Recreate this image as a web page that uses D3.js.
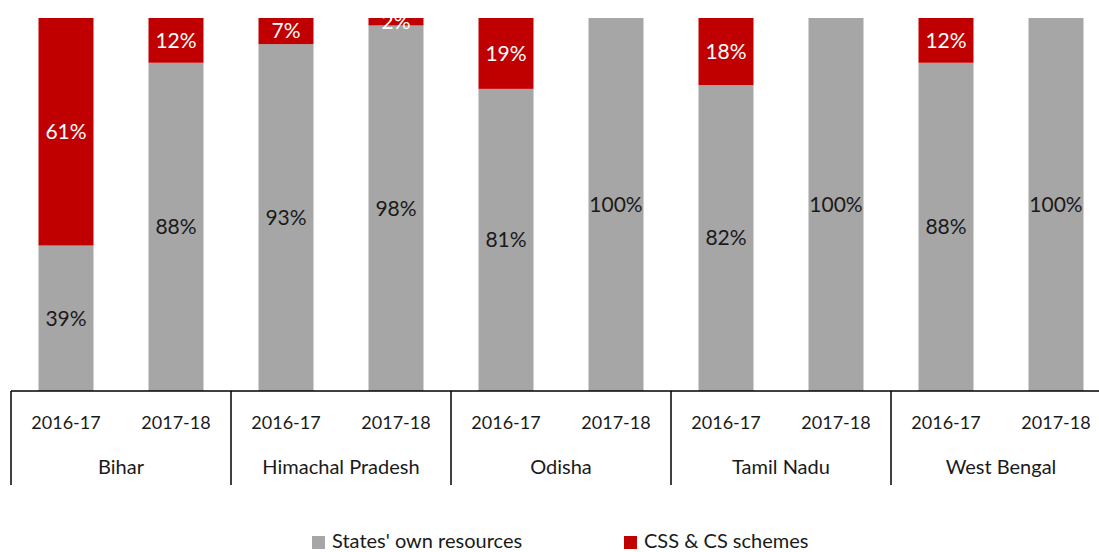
<!DOCTYPE html>
<html>
<head>
<meta charset="utf-8">
<script src="https://cdn.jsdelivr.net/npm/d3@7"></script>
<style>
body { margin: 0; background: #fff; }
svg { display: block; font-family: Lato, "Open Sans", sans-serif; }
</style>
</head>
<body>
<svg id="chart" width="1099" height="552"></svg>
<script>
var states = ["Bihar", "Himachal Pradesh", "Odisha", "Tamil Nadu", "West Bengal"];
var years = ["2016-17", "2017-18"];
// one value per bar, in the order state by state, year by year
var ownResources = [39, 88, 93, 98, 81, 100, 82, 100, 88, 100];
var cssSchemes = [61, 12, 7, 2, 19, 0, 18, 0, 12, 0];
var seriesNames = ["States' own resources", "CSS & CS schemes"];
var colours = ["#a6a6a6", "#c00000"];

var svg = d3.select("#chart");
var plotTop = 18, plotBottom = 391, plotLeft = 11, plotRight = 1111;

var bars = [];
states.forEach(function (s, i) {
    years.forEach(function (yr, j) {
        var k = i * years.length + j;
        bars.push({ key: s + "|" + yr, state: s, year: yr, own: ownResources[k], css: cssSchemes[k] });
    });
});

var x = d3.scaleBand()
    .domain(bars.map(function (d) { return d.key; }))
    .range([plotLeft, plotRight])
    .paddingInner(0.5)
    .paddingOuter(0.25);
var y = d3.scaleLinear().domain([0, 100]).range([plotBottom, plotTop]);

var g = svg.selectAll("g.bar").data(bars).enter().append("g").attr("class", "bar");

g.append("rect")
    .attr("x", function (d) { return x(d.key); })
    .attr("width", x.bandwidth())
    .attr("y", function (d) { return y(d.own); })
    .attr("height", function (d) { return y(0) - y(d.own); })
    .attr("fill", colours[0]);

g.filter(function (d) { return d.css > 0; }).append("rect")
    .attr("x", function (d) { return x(d.key); })
    .attr("width", x.bandwidth())
    .attr("y", function (d) { return y(d.own + d.css); })
    .attr("height", function (d) { return y(d.own) - y(d.own + d.css); })
    .attr("fill", colours[1]);

g.append("text")
    .attr("x", function (d) { return x(d.key) + x.bandwidth() / 2; })
    .attr("y", function (d) { return (y(0) + y(d.own)) / 2; })
    .attr("dy", "0.35em")
    .attr("text-anchor", "middle")
    .attr("font-size", 21)
    .attr("fill", "#1a1a1a")
    .text(function (d) { return d.own + "%"; });

g.filter(function (d) { return d.css > 0; }).append("text")
    .attr("x", function (d) { return x(d.key) + x.bandwidth() / 2; })
    .attr("y", function (d) { return (y(d.own) + y(d.own + d.css)) / 2; })
    .attr("dy", "0.35em")
    .attr("text-anchor", "middle")
    .attr("font-size", 21)
    .attr("fill", "#fff")
    .text(function (d) { return d.css + "%"; });

// category axis: years, then states
svg.append("line")
    .attr("x1", plotLeft).attr("x2", plotRight)
    .attr("y1", plotBottom).attr("y2", plotBottom)
    .attr("stroke", "#000").attr("stroke-width", 1.5);

svg.selectAll("text.year").data(bars).enter().append("text")
    .attr("class", "year")
    .attr("x", function (d) { return x(d.key) + x.bandwidth() / 2; })
    .attr("y", 429)
    .attr("text-anchor", "middle")
    .attr("font-size", 18)
    .attr("fill", "#1a1a1a")
    .text(function (d) { return d.year; });

var groupW = x.step() * years.length;
svg.selectAll("line.sep").data(states).enter().append("line")
    .attr("class", "sep")
    .attr("x1", function (d, i) { return plotLeft + i * groupW; })
    .attr("x2", function (d, i) { return plotLeft + i * groupW; })
    .attr("y1", plotBottom).attr("y2", 485)
    .attr("stroke", "#000").attr("stroke-width", 1.5);

svg.selectAll("text.state").data(states).enter().append("text")
    .attr("class", "state")
    .attr("x", function (d, i) { return plotLeft + i * groupW + groupW / 2; })
    .attr("y", 474)
    .attr("text-anchor", "middle")
    .attr("font-size", 20)
    .attr("fill", "#1a1a1a")
    .text(function (d) { return d; });

// legend
var legendX = [312, 624];
var lg = svg.selectAll("g.legend").data(seriesNames).enter().append("g")
    .attr("class", "legend")
    .attr("transform", function (d, i) { return "translate(" + legendX[i] + ",536)"; });
lg.append("rect").attr("width", 13).attr("height", 13)
    .attr("fill", function (d, i) { return colours[i]; });
lg.append("text").attr("x", 20).attr("y", 12)
    .attr("font-size", 20).attr("fill", "#1a1a1a")
    .text(function (d) { return d; });
</script>
</body>
</html>
